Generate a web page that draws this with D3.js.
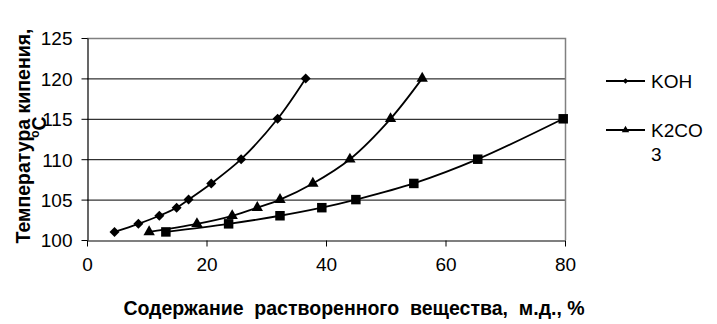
<!DOCTYPE html>
<html>
<head>
<meta charset="utf-8">
<script src="https://cdn.jsdelivr.net/npm/d3@7"></script>
<style>
  body { margin: 0; background: #fff; }
  svg { font-family: "Liberation Sans", Arial, sans-serif; }
</style>
</head>
<body>
<script>
// values
var kohX = [4.6, 8.6, 12.1, 15.0, 17.0, 20.8, 25.8, 31.9, 36.6];
var kohY = [101, 102, 103, 104, 105, 107, 110, 115, 120];
var k2co3X = [10.4, 18.4, 24.3, 28.5, 32.3, 37.8, 44.0, 50.8, 56.1];
var k2co3Y = [101, 102, 103, 104, 105, 107, 110, 115, 120];
var thirdX = [13.2, 23.7, 32.3, 39.3, 45.0, 54.7, 65.4, 79.7];
var thirdY = [101, 102, 103, 104, 105, 107, 110, 115];
var xTicks = [0, 20, 40, 60, 80];
var yTicks = [100, 105, 110, 115, 120, 125];

var width = 717, height = 324;
var plotLeft = 87, plotRight = 565, plotTop = 38, plotBottom = 240;

var svg = d3.select("body").append("svg")
  .attr("width", width)
  .attr("height", height);

var x = d3.scaleLinear().domain([0, 80]).range([plotLeft, plotRight]);
var y = d3.scaleLinear().domain([100, 125]).range([plotBottom, plotTop]);

// grid lines
svg.append("g").selectAll("line")
  .data(yTicks.filter(function(d) { return d > 100 && d < 125; }))
  .enter().append("line")
  .attr("x1", plotLeft).attr("x2", plotRight)
  .attr("y1", function(d) { return y(d) + 0.5; })
  .attr("y2", function(d) { return y(d) + 0.5; })
  .attr("stroke", "#000").attr("stroke-width", 1);

// gray frame top / right
svg.append("path")
  .attr("d", "M" + plotLeft + "," + (y(125) + 0.5) + "H" + (plotRight + 0.5) + "V" + plotBottom)
  .attr("fill", "none").attr("stroke", "#808080").attr("stroke-width", 1.5);

// axes
var xAxis = svg.append("g")
  .attr("transform", "translate(0," + (plotBottom + 0.5) + ")")
  .call(d3.axisBottom(x).tickValues(xTicks).tickSize(6).tickSizeOuter(0));
var yAxis = svg.append("g")
  .attr("transform", "translate(" + (plotLeft + 0.5) + ",0)")
  .call(d3.axisLeft(y).tickValues(yTicks).tickSize(6).tickSizeOuter(0));

[xAxis, yAxis].forEach(function(a) {
  a.select(".domain").attr("stroke", "#000").attr("stroke-width", 1.2);
  a.selectAll(".tick line").attr("stroke", "#000");
  a.selectAll("text")
    .attr("fill", "#000")
    .style("font-family", "'Liberation Sans', Arial, sans-serif")
    .style("font-size", "19px");
});
yAxis.selectAll("text").attr("dy", "0.36em").attr("x", -15);
xAxis.selectAll("text").attr("dy", "0.71em").attr("y", 17);

// series lines
var line = d3.line()
  .x(function(d) { return x(d[0]); })
  .y(function(d) { return y(d[1]); })
  .curve(d3.curveCatmullRom.alpha(0.5));

var series = [
  { xs: kohX, ys: kohY, sym: d3.symbolDiamond2, size: 64 },
  { xs: k2co3X, ys: k2co3Y, sym: d3.symbolTriangle, size: 56 },
  { xs: thirdX, ys: thirdY, sym: d3.symbolSquare, size: 90 }
];

series.forEach(function(s) {
  var pts = d3.zip(s.xs, s.ys);
  svg.append("path")
    .datum(pts)
    .attr("d", line)
    .attr("fill", "none")
    .attr("stroke", "#000")
    .attr("stroke-width", 1.8);
  svg.append("g").selectAll("path")
    .data(pts)
    .enter().append("path")
    .attr("transform", function(d) { return "translate(" + x(d[0]) + "," + y(d[1]) + ")"; })
    .attr("d", d3.symbol().type(s.sym).size(s.size))
    .attr("fill", "#000");
});

// legend
var legend = [
  { name: ["KOH"], sym: d3.symbolDiamond2, size: 20, yPos: 81 },
  { name: ["K2CO", "3"], sym: d3.symbolTriangle, size: 24, yPos: 130 }
];
legend.forEach(function(l) {
  var g = svg.append("g");
  g.append("line")
    .attr("x1", 606).attr("x2", 645)
    .attr("y1", l.yPos).attr("y2", l.yPos)
    .attr("stroke", "#000").attr("stroke-width", 1.8);
  g.append("path")
    .attr("transform", "translate(625.5," + l.yPos + ")")
    .attr("d", d3.symbol().type(l.sym).size(l.size))
    .attr("fill", "#000");
  l.name.forEach(function(t, i) {
    g.append("text")
      .attr("x", 651)
      .attr("y", l.yPos + 7 + i * 24)
      .style("font-size", "19px")
      .text(t);
  });
});

// axis titles
svg.append("text")
  .attr("x", 354)
  .attr("y", 315)
  .attr("text-anchor", "middle")
  .style("font-size", "19.5px")
  .style("font-weight", "bold")
  .style("white-space", "pre")
  .text("Содержание  растворенного  вещества,  м.д., %");

var yt = svg.append("g").attr("transform", "translate(0,136) rotate(-90)");
yt.append("text")
  .attr("x", 0).attr("y", 30)
  .attr("text-anchor", "middle")
  .style("font-size", "19.5px")
  .style("font-weight", "bold")
  .text("Температура кипения,");
var deg = yt.append("text")
  .attr("x", 9).attr("y", 46)
  .attr("text-anchor", "middle")
  .style("font-size", "19.5px")
  .style("font-weight", "bold");
deg.append("tspan").attr("baseline-shift", "super").style("font-size", "12px").text("o");
deg.append("tspan").text("C");
</script>
</body>
</html>
